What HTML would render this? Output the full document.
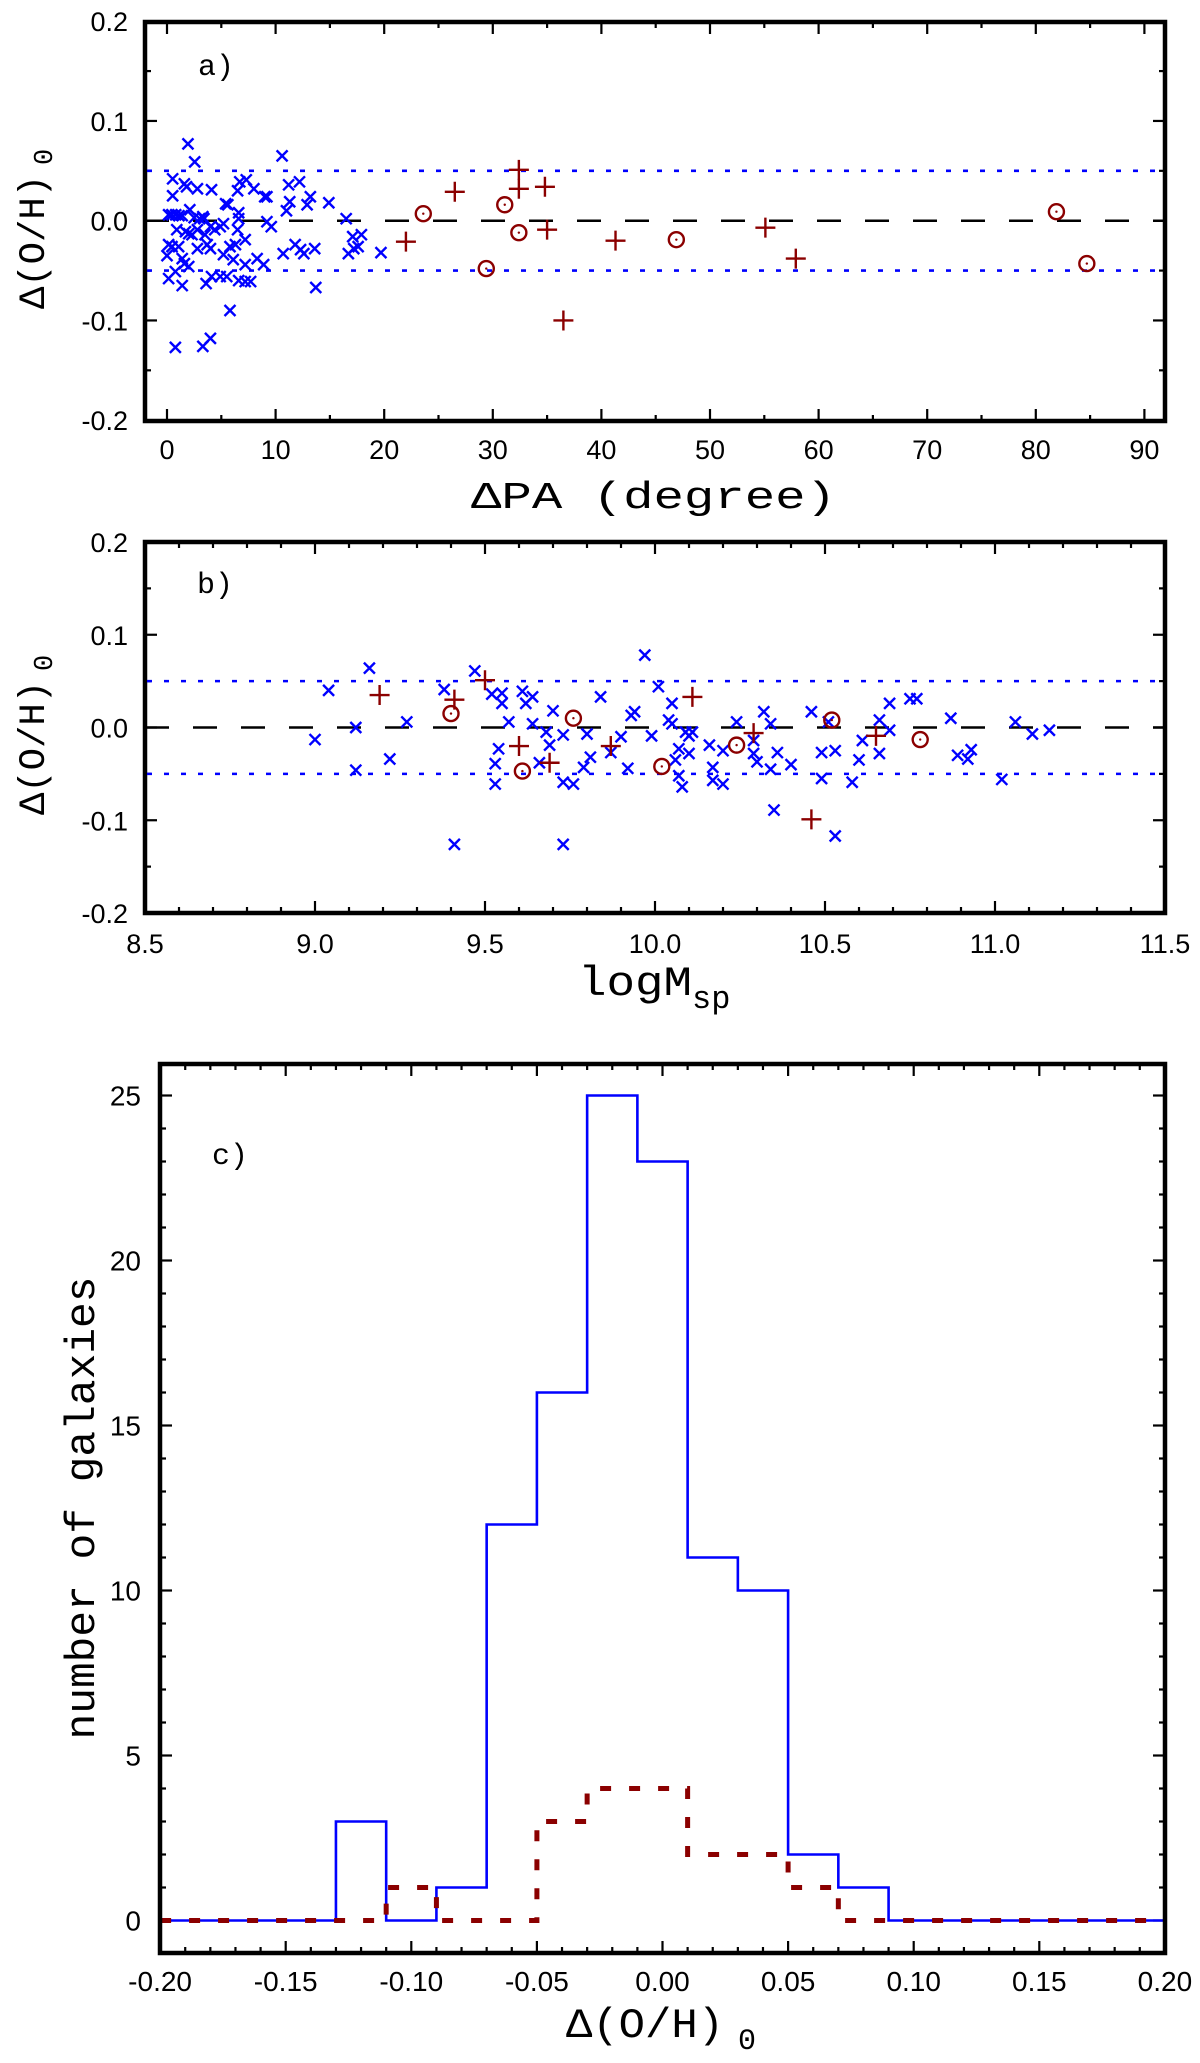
<!DOCTYPE html>
<html><head><meta charset="utf-8"><style>
html,body{margin:0;padding:0;background:#fff;}
svg{display:block;}
text{font-family:"Liberation Sans",sans-serif;fill:#000;}
.mono{font-family:"Liberation Mono",monospace;}
</style></head><body>
<svg id="fig" width="1200" height="2063" viewBox="0 0 1200 2063" xmlns="http://www.w3.org/2000/svg"></svg>
<script>
// ---------- Panel a data ----------
const aBlueX=[1.93,2.55,0.52,0.52,1.6,1.8,2.8,4.1,6.5,6.7,7.3,8.0,9.0,9.2,10.6,11.2,12.2,11.3,11.0,12.9,13.2,14.9,5.4,5.6,6.6,6.6,0.15,0.45,0.8,1.1,1.4,2.1,2.5,3.0,3.3,3.4,9.2,9.6,16.5,0.9,1.7,2.0,2.3,2.8,3.5,4.0,4.4,4.9,5.2,6.5,7.2,0.15,0.46,0.0,1.07,2.8,3.7,4.0,5.2,5.8,6.3,6.1,7.2,8.3,8.9,1.4,1.6,2.0,0.15,0.77,1.4,3.6,4.1,4.9,5.5,6.6,7.2,7.7,10.7,11.8,12.3,12.6,13.6,16.7,17.2,17.6,17.1,17.9,19.7,13.7,5.8,0.77,3.3,4.0];
const aBlueY=[0.077,0.059,0.042,0.025,0.037,0.034,0.032,0.031,0.030,0.039,0.041,0.032,0.024,0.024,0.065,0.036,0.039,0.019,0.010,0.016,0.024,0.018,0.017,0.016,0.008,0.002,0.006,0.006,0.006,0.005,0.005,0.011,0.003,0.002,0.004,0.002,-0.001,-0.006,0.002,-0.009,-0.011,-0.013,-0.014,-0.009,-0.014,-0.006,-0.009,-0.006,-0.003,-0.009,-0.019,-0.024,-0.026,-0.035,-0.026,-0.028,-0.024,-0.028,-0.034,-0.026,-0.024,-0.039,-0.044,-0.038,-0.044,-0.038,-0.043,-0.046,-0.058,-0.051,-0.065,-0.063,-0.056,-0.056,-0.056,-0.060,-0.061,-0.061,-0.033,-0.024,-0.029,-0.033,-0.028,-0.033,-0.028,-0.026,-0.016,-0.014,-0.032,-0.067,-0.090,-0.127,-0.126,-0.118];
const aPlusX=[22.0,26.5,32.4,32.4,34.8,35.0,36.5,41.3,55.1,57.9];
const aPlusY=[-0.021,0.029,0.051,0.032,0.034,-0.009,-0.100,-0.020,-0.007,-0.038];
const aCircX=[23.6,31.1,32.4,29.4,46.9,81.9,84.7];
const aCircY=[0.007,0.016,-0.012,-0.048,-0.019,0.009,-0.043];
const aXTicks=[0,10,20,30,40,50,60,70,80,90];
const yTicksAB=["0.2","0.1","0.0","-0.1","-0.2"];

// ---------- Panel b data ----------
const bBlueX=[9.00,9.04,9.16,9.12,9.12,9.22,9.27,9.38,9.41,9.47,9.52,9.55,9.55,9.54,9.53,9.53,9.57,9.61,9.62,9.64,9.64,9.66,9.68,9.69,9.70,9.73,9.73,9.73,9.76,9.79,9.80,9.81,9.84,9.87,9.90,9.92,9.93,9.94,9.97,9.99,10.01,10.04,10.05,10.05,10.06,10.07,10.07,10.08,10.09,10.10,10.10,10.11,10.16,10.17,10.17,10.20,10.20,10.24,10.29,10.29,10.30,10.32,10.34,10.34,10.35,10.36,10.40,10.46,10.49,10.49,10.51,10.53,10.53,10.58,10.60,10.61,10.66,10.66,10.69,10.69,10.75,10.77,10.87,10.89,10.92,10.93,11.02,11.06,11.11,11.16];
const bBlueY=[-0.013,0.040,0.064,0.000,-0.046,-0.034,0.006,0.041,-0.126,0.061,0.036,0.037,0.026,-0.023,-0.039,-0.061,0.006,0.039,0.026,0.033,0.004,-0.038,-0.005,-0.019,0.018,-0.008,-0.126,-0.059,-0.061,-0.043,-0.007,-0.032,0.033,-0.027,-0.010,-0.044,0.013,0.017,0.078,-0.009,0.044,0.008,0.004,0.026,-0.035,-0.052,-0.023,-0.064,-0.005,-0.009,-0.028,-0.005,-0.019,-0.043,-0.057,-0.025,-0.061,0.006,-0.028,-0.014,-0.037,0.017,0.004,-0.045,-0.089,-0.027,-0.040,0.017,-0.027,-0.055,0.006,-0.117,-0.025,-0.059,-0.035,-0.014,0.008,-0.028,0.026,-0.003,0.031,0.031,0.010,-0.030,-0.034,-0.024,-0.056,0.006,-0.007,-0.003];
const bPlusX=[9.19,9.41,9.50,9.60,9.69,9.87,10.11,10.29,10.46,10.65];
const bPlusY=[0.035,0.030,0.051,-0.020,-0.038,-0.020,0.033,-0.006,-0.099,-0.009];
const bCircX=[9.40,9.61,9.76,10.02,10.24,10.52,10.78];
const bCircY=[0.015,-0.047,0.010,-0.042,-0.019,0.008,-0.013];
const bXTicks=["8.5","9.0","9.5","10.0","10.5","11.0","11.5"];

// ---------- Panel c data ----------
const cEdges=[-0.20,-0.13,-0.11,-0.09,-0.07,-0.05,-0.03,-0.01,0.01,0.03,0.05,0.07,0.09,0.20];
const cBlue=[0,3,0,1,12,16,25,23,11,10,2,1,0];
const cRed=[0,0,1,0,0,3,4,4,2,2,1,0,0];
const cXTicks=["-0.20","-0.15","-0.10","-0.05","0.00","0.05","0.10","0.15","0.20"];
const cYTicks=[0,5,10,15,20,25];

const NS="http://www.w3.org/2000/svg";
const svg=document.getElementById('fig');
function mk(tag,attrs,parent){const e=document.createElementNS(NS,tag);for(const k in attrs)e.setAttribute(k,attrs[k]);(parent||svg).appendChild(e);return e;}
const BLUE="#0000ff", RED="#8b0000";

function panel(name,L,R,T,B,xs,ys,xmin,xmax,xmaj,xmin2,ymin,ymax,ymaj,ymin2,majLen,minLen){
  const g=mk('g',{});
  
  
  const tg=mk('g',{stroke:'#000','stroke-width':2.2},g);
  
  
  const nx=Math.round((xmax-xmin)/xmin2);
  for(let i=0;i<=nx;i++){const v=xmin+i*xmin2;const maj=Math.abs(Math.round(v/xmaj)*xmaj-v)<1e-9;const len=maj?majLen:minLen;const X=xs(v);
    mk('line',{x1:X,y1:B,x2:X,y2:B-len},tg);mk('line',{x1:X,y1:T,x2:X,y2:T+len},tg);}
  const ny=Math.round((ymax-ymin)/ymin2);
  for(let i=0;i<=ny;i++){const v=ymin+i*ymin2;const maj=Math.abs(Math.round(v/ymaj)*ymaj-v)<1e-9;const len=maj?majLen:minLen;const Y=ys(v);
    mk('line',{x1:L,y1:Y,x2:L+len,y2:Y},tg);mk('line',{x1:R,y1:Y,x2:R-len,y2:Y},tg);}
  const fr=mk('rect',{x:L,y:T,width:R-L,height:B-T,fill:'none',stroke:'#000','stroke-width':4.5},g);
  
  
  return g;
}
function xMark(g,X,Y){const p=mk('path',{d:`M${X-5.5},${Y-5.5}L${X+5.5},${Y+5.5}M${X-5.5},${Y+5.5}L${X+5.5},${Y-5.5}`,stroke:BLUE,'stroke-width':2.4,fill:'none'},g);
  
  }
function plusMark(g,X,Y){const p=mk('path',{d:`M${X-10},${Y}H${X+10}M${X},${Y-10}V${Y+10}`,stroke:RED,'stroke-width':2.4,fill:'none'},g);
  
  }
function circMark(g,X,Y){const c=mk('circle',{cx:X,cy:Y,r:7.5,stroke:RED,'stroke-width':2.4,fill:'none'},g);
  
  
  mk('circle',{cx:X,cy:Y,r:1.2,fill:RED},g);}
function refLines(g,L,R,ys){
  const d=mk('line',{x1:L,y1:ys(0),x2:R,y2:ys(0),stroke:'#000','stroke-width':2.5,'stroke-dasharray':'24,24'},g);
  
  
  for(const v of [0.05,-0.05]){const l=mk('line',{x1:L+2,y1:ys(v),x2:R,y2:ys(v),stroke:BLUE,'stroke-width':2.6,'stroke-dasharray':'5,12'},g);
    
    }
}

// ===== Panel a =====
{
const L=145,R=1165,T=22,B=421;
const xs=v=>167+v*10.86, ys=v=>220.7-v*997.5;
const g=panel('panel-a',L,R,T,B,xs,ys,0,90,10,5,-0.2,0.2,0.1,0.05,12,6);
refLines(g,L,R,ys);
for(let i=0;i<aBlueX.length;i++)xMark(g,xs(aBlueX[i]),ys(aBlueY[i]));
for(let i=0;i<aPlusX.length;i++)plusMark(g,xs(aPlusX[i]),ys(aPlusY[i]));
for(let i=0;i<aCircX.length;i++)circMark(g,xs(aCircX[i]),ys(aCircY[i]));
aXTicks.forEach(v=>{const t=mk('text',{x:xs(v),y:459,'text-anchor':'middle','font-size':27},g);t.textContent=v;
  
  });
yTicksAB.forEach(s=>{const t=mk('text',{x:128,y:ys(parseFloat(s))+10,'text-anchor':'end','font-size':27},g);t.textContent=s;
  
  });
const lab=mk('text',{x:198,y:75,class:'mono','font-size':30},g);lab.textContent='a)';


const xt=mk('text',{x:471,y:508,class:'mono','font-size':38,textLength:365,lengthAdjust:'spacingAndGlyphs'},g);xt.textContent='ΔPA   (degree)';


const yt=mk('text',{x:0,y:0,class:'mono','font-size':37,transform:'translate(44,309) rotate(-90)'},g);
yt.innerHTML='<tspan textLength="134" lengthAdjust="spacingAndGlyphs">Δ(O/H)</tspan><tspan dx="10" dy="8" font-size="27">0</tspan>';


}
// ===== Panel b =====
{
const L=145,R=1165,T=542,B=913;
const xs=v=>145+(v-8.5)*340, ys=v=>727.5-v*927.5;
const g=panel('panel-b',L,R,T,B,xs,ys,8.5,11.5,0.5,0.1,-0.2,0.2,0.1,0.05,12,6);
refLines(g,L,R,ys);
for(let i=0;i<bBlueX.length;i++)xMark(g,xs(bBlueX[i]),ys(bBlueY[i]));
for(let i=0;i<bPlusX.length;i++)plusMark(g,xs(bPlusX[i]),ys(bPlusY[i]));
for(let i=0;i<bCircX.length;i++)circMark(g,xs(bCircX[i]),ys(bCircY[i]));
bXTicks.forEach(s=>{const t=mk('text',{x:xs(parseFloat(s)),y:953,'text-anchor':'middle','font-size':27},g);t.textContent=s;
  
  });
yTicksAB.forEach(s=>{const t=mk('text',{x:128,y:ys(parseFloat(s))+10,'text-anchor':'end','font-size':27},g);t.textContent=s;
  
  });
const lab=mk('text',{x:197,y:593,class:'mono','font-size':30},g);lab.textContent='b)';


const xt=mk('text',{x:578,y:995,class:'mono','font-size':42},g);
xt.innerHTML='<tspan textLength="114" lengthAdjust="spacingAndGlyphs">logM</tspan><tspan dy="13" font-size="32">sp</tspan>';


const yt=mk('text',{x:0,y:0,class:'mono','font-size':37,transform:'translate(44,815) rotate(-90)'},g);
yt.innerHTML='<tspan textLength="134" lengthAdjust="spacingAndGlyphs">Δ(O/H)</tspan><tspan dx="10" dy="8" font-size="27">0</tspan>';


}
// ===== Panel c =====
{
const L=160,R=1165,T=1064,B=1953;
const xs=v=>662.5+v*2512, ys=v=>1920.5-v*33;
const g=mk('g',{});


const tg=mk('g',{stroke:'#000','stroke-width':2.2},g);


for(let i=0;i<=40;i++){const v=-0.2+i*0.01;const X=xs(v);const len=(i%5===0)?12:6;
  mk('line',{x1:X,y1:B,x2:X,y2:B-len},tg);mk('line',{x1:X,y1:T,x2:X,y2:T+len},tg);}
for(let v=-3;v<=26;v++){const Y=ys(v);if(Y>B-2||Y<T+2)continue;const len=(v%5===0)?12:6;
  mk('line',{x1:L,y1:Y,x2:L+len,y2:Y},tg);mk('line',{x1:R,y1:Y,x2:R-len,y2:Y},tg);}
function step(counts){let d=`M${xs(cEdges[0])},${ys(counts[0])}`;
  for(let i=0;i<counts.length;i++){if(i>0)d+=`V${ys(counts[i])}`;d+=`H${xs(cEdges[i+1])}`;}return d;}
const bl=mk('path',{d:step(cBlue),fill:'none',stroke:BLUE,'stroke-width':2.6},g);


const rd=mk('path',{d:step(cRed),fill:'none',stroke:RED,'stroke-width':5,'stroke-dasharray':'11,18'},g);


const fr=mk('rect',{x:L,y:T,width:R-L,height:B-T,fill:'none',stroke:'#000','stroke-width':4.5},g);


cXTicks.forEach(s=>{const t=mk('text',{x:xs(parseFloat(s)),y:1991,'text-anchor':'middle','font-size':28},g);t.textContent=s;
  
  });
cYTicks.forEach(v=>{const t=mk('text',{x:141,y:ys(v)+10,'text-anchor':'end','font-size':28},g);t.textContent=v;
  
  });
const lab=mk('text',{x:212,y:1164,class:'mono','font-size':30},g);lab.textContent='c)';


const xt=mk('text',{x:566,y:2037,class:'mono','font-size':42},g);
xt.innerHTML='<tspan textLength="158" lengthAdjust="spacingAndGlyphs">Δ(O/H)</tspan><tspan dx="14" dy="12" font-size="30">0</tspan>';


const yt=mk('text',{x:0,y:0,class:'mono','font-size':42,'text-anchor':'middle',textLength:463,lengthAdjust:'spacingAndGlyphs',transform:'translate(94,1508) rotate(-90)'},g);
yt.textContent='number of galaxies';


}
</script>
</body></html>
